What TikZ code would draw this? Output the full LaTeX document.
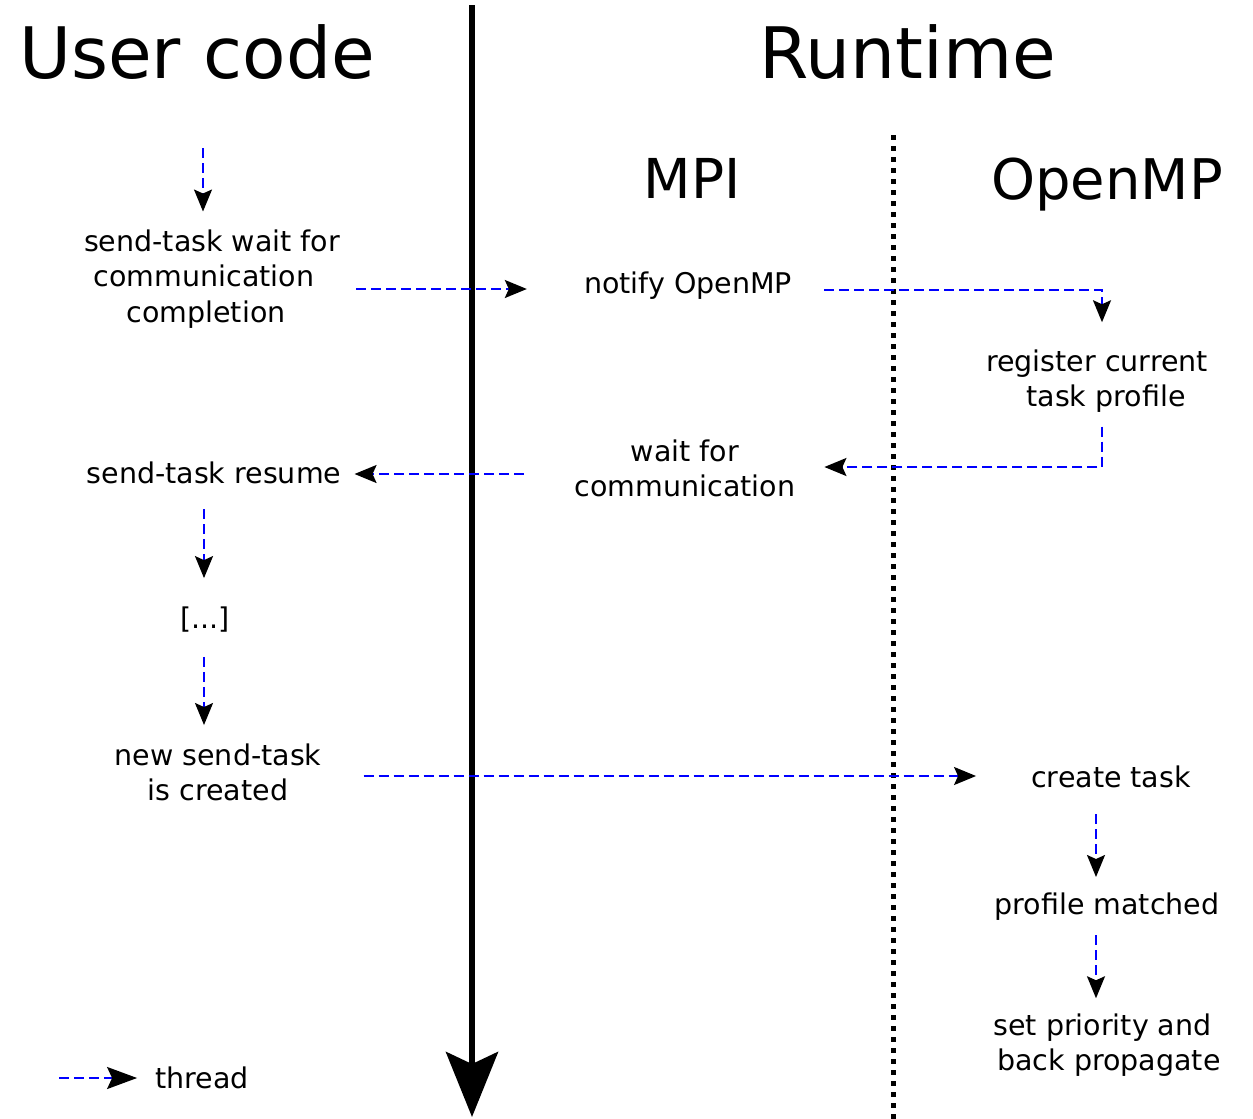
\documentclass[tikz,border=0pt]{standalone}
\usepackage{fontspec}
\setmainfont{DejaVu Sans}
\usetikzlibrary{arrows.meta,calc}
\begin{document}
\begin{tikzpicture}[x=1pt,y=-1pt,
  txt/.style={inner sep=0pt, align=center, font=\fontsize{28.5}{35.5}\selectfont},
  big/.style={inner sep=0pt, font=\fontsize{71}{80}\selectfont},
  mid/.style={inner sep=0pt, font=\fontsize{55}{64}\selectfont},
  thr/.style={draw={rgb,255:red,0;green,0;blue,255}, line width=2pt, dash pattern=on 10pt off 5pt,
    -{Stealth[black, length=22pt, width=18pt, inset=4pt]}},
  thrbig/.style={thr, -{Stealth[black, length=30pt, width=22pt, inset=5pt]}}]
\useasboundingbox (0,0) rectangle (1253,1119);
% axes
\coordinate (ax0) at (472,5);
\coordinate (ax1) at (472,1117);
\draw[line width=6pt, -{Stealth[length=65pt, width=52pt, inset=12pt]}] (ax0) -- (ax1);
\coordinate (dt0) at (893,135);
\coordinate (dt1) at (893,1119);
\draw[line width=5pt, dash pattern=on 5pt off 6pt] (dt0) -- (dt1);
% titles
\node[big] (uc) at (197,52) {User code};
\node[big] (rt) at (908,52) {Runtime};
\node[mid] (mpi) at (692,178) {MPI};
\node[mid, font=\fontsize{56}{64}\selectfont] (omp) at (1107,185) {OpenMP};
% text nodes
\node[txt] (n1) at (212,279) {send-task wait for\\communication\hspace*{16pt}\null\\completion\hspace*{12pt}\null};
\node[txt] (n2) at (688,286) {notify OpenMP};
\node[txt] (n3) at (1097,381) {register current\\\hspace*{18pt}task profile};
\node[txt] (n4) at (685,468.5) {wait for\\communication};
\node[txt] (n5) at (214,473) {send-task resume};
\node[txt] (n6) at (205,620) {[...]};
\node[txt] (n7) at (218,772.5) {new send-task\\is created};
\node[txt] (n8) at (1111,777) {create task};
\node[txt] (n9) at (1107,907) {profile matched};
\node[txt] (n10) at (1109,1045) {set priority and\hspace*{13pt}\null\\back propagate};
\node[txt] (lg) at (202,1078) {thread};
% connectors
\coordinate (s0) at (203,148);
\draw[thr] (s0) -- ([shift={(-9,-18)}]n1.north);
\draw[thr] ([shift={(16,10)}]n1.east) -- ([shift={(-57,3)}]n2.west);
\draw[thr] ([shift={(32,4)}]n2.east) -| ([shift={(5,-27)}]n3.north);
\draw[thr] ([shift={(5,14)}]n3.south) |- ([shift={(29,-1.5)}]n4.east);
\draw[thr] ([shift={(-51,5.5)}]n4.west) -- ([shift={(13,1)}]n5.east);
\draw[thr] ([shift={(-10,25)}]n5.south) -- ([shift={(-1,-29)}]n6.north);
\draw[thr] ([shift={(-1,24)}]n6.south) -- ([shift={(-14,-18.5)}]n7.north);
\draw[thr] ([shift={(42,3.5)}]n7.east) -- ([shift={(-55,-1)}]n8.west);
\draw[thr] ([shift={(-15,26)}]n8.south) -- ([shift={(-11,-16)}]n9.north);
\draw[thr] ([shift={(-11,14)}]n9.south) -- ([shift={(-13,-15)}]n10.north);
\coordinate (lg0) at (59,1078);
\draw[thrbig] (lg0) -- ([xshift=-18]lg.west);
\end{tikzpicture}
\end{document}
